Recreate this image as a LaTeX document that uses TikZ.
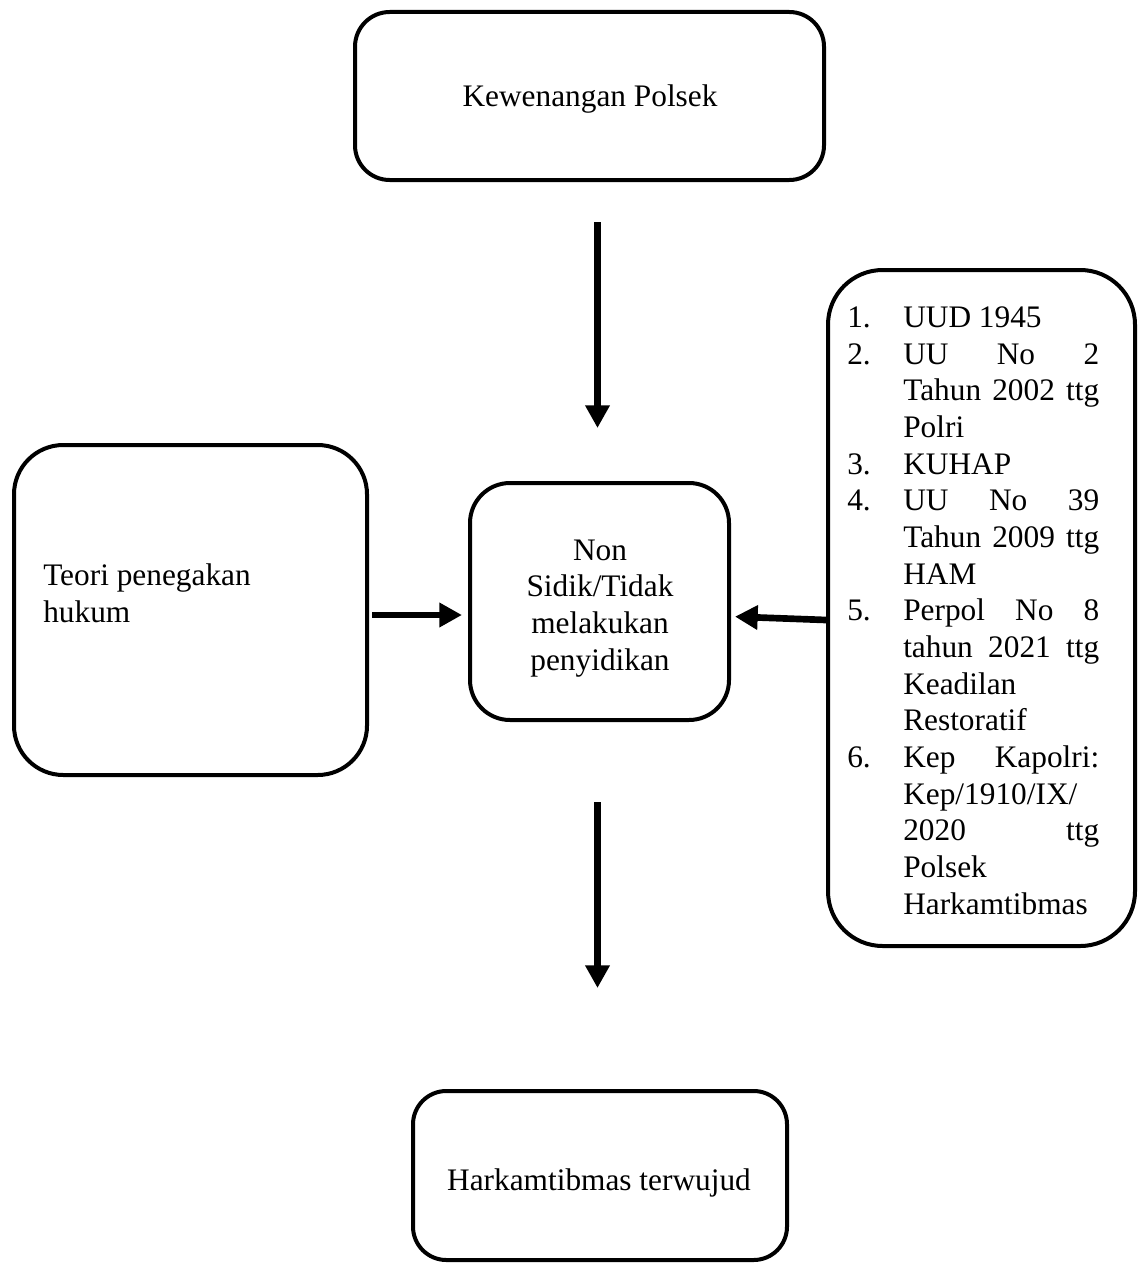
\documentclass[tikz,border=0pt]{standalone}
\usepackage{fontspec}
\setmainfont{Liberation Serif}
\usetikzlibrary{arrows.meta,calc}
\newdimen\pxu \pxu=0.75pt
\newcommand\numcol[1]{\makebox[42pt][l]{#1}}
\newcommand\jline[1]{\makebox[147pt][s]{#1}}
\begin{document}
\begin{tikzpicture}[x=0.75pt,y=-0.75pt,
  box/.style={draw,line width=3pt,rectangle,inner sep=0pt},
  txt/.style={inner sep=0pt,font={\fontsize{23.5pt}{27.5pt}\selectfont}},
  arr/.style={line width=5pt,-{Triangle[length=17pt,width=17.5pt]}}]
\useasboundingbox (0,0) rectangle (1142,1263);
% boxes
\node[box,rounded corners=26pt,minimum width=469\pxu,minimum height=168\pxu] (top) at (589.5,96) {};
\node[box,rounded corners=37pt,minimum width=353\pxu,minimum height=330\pxu] (left) at (190.5,610) {};
\node[box,rounded corners=30pt,minimum width=259\pxu,minimum height=237\pxu] (mid) at (599.5,601.5) {};
\node[box,rounded corners=41pt,minimum width=307\pxu,minimum height=676\pxu] (right) at (981.5,608) {};
\node[box,rounded corners=25pt,minimum width=374\pxu,minimum height=169\pxu] (bottom) at (600,1175.5) {};
% texts (base anchor = last line baseline)
\node[txt,anchor=base] (ttop) at (590,107) {Kewenangan Polsek};
\node[txt,anchor=base west,align=left] (tleft) at (43,622) {Teori penegakan\\hukum};
\node[txt,anchor=base,align=center] (tmid) at (600,670) {Non\\Sidik/Tidak\\melakukan\\penyidikan};
\node[txt,anchor=base] (tbottom) at (599,1190) {Harkamtibmas terwujud};
\node[txt,anchor=base west,align=left] (tright) at (847,914) {%
\numcol{1.}UUD 1945\\
\numcol{2.}\jline{UU No 2}\\
\numcol{}\jline{Tahun 2002 ttg}\\
\numcol{}Polri\\
\numcol{3.}KUHAP\\
\numcol{4.}\jline{UU No 39}\\
\numcol{}\jline{Tahun 2009 ttg}\\
\numcol{}HAM\\
\numcol{5.}\jline{Perpol No 8}\\
\numcol{}\jline{tahun 2021 ttg}\\
\numcol{}Keadilan\\
\numcol{}Restoratif\\
\numcol{6.}\jline{Kep Kapolri:}\\
\numcol{}Kep/1910/IX/\\
\numcol{}\jline{2020 ttg}\\
\numcol{}Polsek\\
\numcol{}Harkamtibmas};
% arrows
\draw[arr,shorten <=40\pxu,shorten >=53\pxu] ($(top.south -| mid.north)+(-2,0)$) -- ($(mid.north)+(-2,0)$);
\draw[arr,shorten <=3\pxu,shorten >=6\pxu] ($(left.east)+(0,5)$) -- ($(mid.west |- left.east)+(0,5)$);
\draw[arr,shorten >=4\pxu] ($(right.west)+(0,12)$) -- ($(mid.east)+(0,15)$);
\draw[arr,shorten <=80\pxu,shorten >=101\pxu] ($(mid.south)+(-2,0)$) -- ($(bottom.north -| mid.south)+(-2,0)$);
\end{tikzpicture}
\end{document}
